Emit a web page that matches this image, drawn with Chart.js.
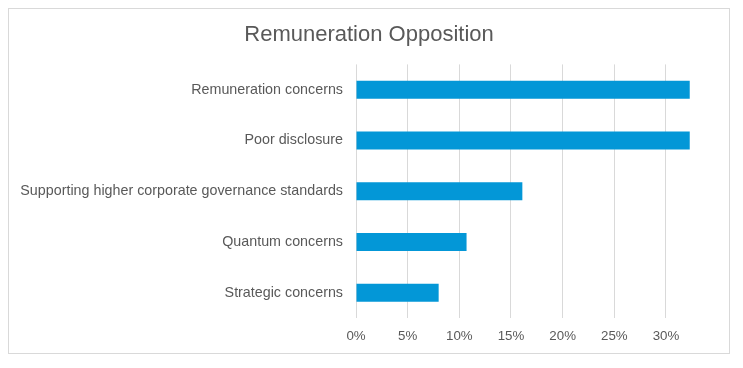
<!DOCTYPE html>
<html>
<head>
<meta charset="utf-8">
<script src="https://cdn.jsdelivr.net/npm/chart.js@4/dist/chart.umd.min.js"></script>
<style>
  body { margin: 0; background: #fff; }
  #wrap {
    position: absolute; left: 8px; top: 8px;
    width: 722px; height: 346px;
    border: 1px solid #d9d9d9; box-sizing: border-box;
  }
  canvas { display: block; }
</style>
</head>
<body>
<div id="wrap"><canvas id="chart" width="720" height="344"></canvas></div>
<script>
// data
const categories = [
  "Remuneration concerns",
  "Poor disclosure",
  "Supporting higher corporate governance standards",
  "Quantum concerns",
  "Strategic concerns",
];
const shares = [32.3, 32.3, 16.1, 10.7, 8.0]; // percent
const axisMax = 36.1;
const tickStep = 5;
const lastTick = 30;

const grey = "#595959";
const font = "'Liberation Sans', Arial, sans-serif";

new Chart(document.getElementById("chart"), {
  type: "bar",
  data: {
    labels: categories,
    datasets: [{
      data: shares,
      backgroundColor: "#0397d7",
      barPercentage: 0.355,
      categoryPercentage: 1,
    }],
  },
  options: {
    indexAxis: "y",
    responsive: false,
    animation: false,
    layout: { padding: 0 },
    plugins: {
      legend: { display: false },
      tooltip: { enabled: false },
      title: {
        display: true,
        text: "Remuneration Opposition",
        color: grey,
        font: { family: font, size: 22, weight: "normal" },
        padding: { top: 13, bottom: 16 },
      },
    },
    scales: {
      x: {
        min: 0,
        max: axisMax,
        grid: { color: "#d9d9d9", drawTicks: false },
        border: { display: false },
        afterBuildTicks: s => { s.ticks = s.ticks.filter(t => t.value <= lastTick); },
        ticks: {
          stepSize: tickStep,
          includeBounds: false,
          padding: 10,
          color: grey,
          font: { family: font, size: 13.3 },
          callback: v => v + "%",
        },
        afterFit: s => { s.height = 35; },
      },
      y: {
        grid: { display: false },
        border: { display: false },
        ticks: {
          padding: 5,
          color: grey,
          font: { family: font, size: 14.3 },
        },
        afterFit: s => { s.width = 347; },
      },
    },
  },
});
</script>
</body>
</html>
